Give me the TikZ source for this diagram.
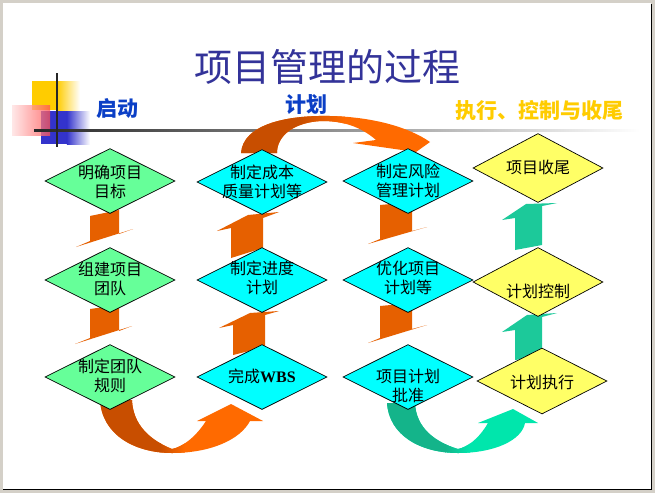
\documentclass[tikz,border=0pt]{standalone}
\usepackage{fontspec}
\newfontfamily\cjk{Noto Sans CJK SC}
\newfontfamily\lat{Liberation Serif}
\usetikzlibrary{shapes.geometric}
\definecolor{frameC}{HTML}{D4D0C8}
\definecolor{titleC}{HTML}{333399}
\definecolor{headB}{HTML}{0B3FC6}
\definecolor{headY}{HTML}{FFCC00}
\definecolor{dGreen}{HTML}{66FF99}
\definecolor{dCyan}{HTML}{00FFFF}
\definecolor{dYellow}{HTML}{FFFF66}
\definecolor{orD}{HTML}{C84E00}
\definecolor{orL}{HTML}{FF6A00}
\definecolor{orS}{HTML}{E66000}
\definecolor{grD}{HTML}{14B48A}
\definecolor{grL}{HTML}{00E6AC}
\definecolor{grS}{HTML}{1CC99A}
\definecolor{logoY}{HTML}{FFCC00}
\definecolor{logoB}{HTML}{3333CC}
\definecolor{logoR}{HTML}{FF3333}
\begin{document}
\begin{tikzpicture}[x=1pt,y=-1pt,
  dia/.style={draw=black, line width=0.7pt, shape=diamond, inner sep=0pt, minimum width=130pt, minimum height=65pt},
  dtxt/.style={font=\cjk\fontsize{16}{19}\selectfont, align=center, inner sep=0pt, text=black},
  head/.style={font=\cjk\bfseries\fontsize{21}{24}\selectfont, inner sep=0pt}]
\useasboundingbox (0,0) rectangle (655,493);
% frame
\fill[frameC] (0,0) rectangle (655,493);
\fill[white] (3,3) rectangle (651,489);
\draw[black, line width=1.2pt] (651.6,4) -- (651.6,489.6) -- (3,489.6);
% title
\node[font=\cjk\fontsize{38}{40}\selectfont, text=titleC, inner sep=0pt] (title) at (327,67) {项目管理的过程};
% logo
\fill[logoY] (32,81) rectangle (57,110);
\shade[left color=logoY, right color=white] (56.8,81) rectangle (80,110);
\fill[logoB] (41,111) rectangle (67,144);
\shade[left color=logoB, right color=white] (66.8,111) rectangle (90,144);
\shade[left color=logoR!15, right color=logoR!85, opacity=0.75] (12,105) rectangle (50,135);
\shade[left color=black!85, middle color=black!45, right color=white] (34,129) rectangle (640,131);
\draw[black!85, line width=2pt] (57,73) -- (57,147);
% headers
\node[head, text=headB] (h1) at (117,109) {启动};
\node[head, text=headB] (h2) at (306,105) {计划};
\node[head, text=headY] (h3) at (539,111) {执行、控制与收尾};
% big curved arrows
\def\toparrow{(241,153) .. controls (243,125) and (285,115) .. (330,116) .. controls (375,117) and (410,128) .. (430,142) -- (416,152) -- (353,143) -- (376,140) .. controls (360,126) and (342,121) .. (322,121) .. controls (295,122) and (277,135) .. (277,153) -- cycle}
\begin{scope}
\clip \toparrow;
\fill[orL] (230,100) rectangle (440,160);
\shade[left color=orD, right color=orL] (300,100) rectangle (345,160);
\fill[orD] (230,100) rectangle (300.5,160);
\end{scope}
\def\blarrow{(100,400) .. controls (102,435) and (135,453) .. (172,453) .. controls (210,453) and (240,440) .. (250,421) -- (263,421) -- (231,404) -- (197,421) -- (206,421) .. controls (195,438) and (182,447) .. (172,449) .. controls (150,440) and (133,425) .. (132,400) -- cycle}
\begin{scope}
\clip \blarrow;
\fill[orL] (90,395) rectangle (270,460);
\shade[left color=orD, right color=orL] (160,395) rectangle (185,460);
\fill[orD] (90,395) rectangle (160.5,460);
\end{scope}
\def\grarrow{(387,403) .. controls (389,435) and (420,453) .. (458,453) .. controls (495,453) and (522,440) .. (525,423) -- (538,423) -- (513,409) -- (478,423) -- (488,423) .. controls (478,440) and (467,447) .. (458,449) .. controls (435,442) and (416,428) .. (415,403) -- cycle}
\begin{scope}
\clip \grarrow;
\fill[grL] (380,395) rectangle (545,460);
\shade[left color=grD, right color=grL] (445,395) rectangle (470,460);
\fill[grD] (380,395) rectangle (445.5,460);
\end{scope}
% small block arrows: column 1 (down)
\fill[orS] (90,216) -- (119,210) -- (119,234) -- (133,229) -- (76,247) -- (90,241) -- cycle;
\fill[orS] (90,309) -- (119,305) -- (119,331) -- (132,326) -- (75,344) -- (90,338) -- cycle;
% column 3 (down)
\fill[orS] (380,205) -- (412,202) -- (412,231) -- (427,227) -- (368,244) -- (380,239) -- cycle;
\fill[orS] (380,306) -- (412,303) -- (412,329) -- (427,325) -- (368,343) -- (380,338) -- cycle;
% column 2 (up)
\fill[orS] (217,231) -- (231,228) -- (231,258) -- (263,248) -- (263,218) -- (279,212) -- (248,215) -- cycle;
\fill[orS] (219,328) -- (233,325) -- (233,355) -- (265,347) -- (265,315) -- (279,311) -- (250,313) -- cycle;
% column 4 (up)
\fill[grS] (502,220) -- (515,218) -- (515,250) -- (542,245) -- (542,206) -- (557,203) -- (526,204) -- cycle;
\fill[grS] (502,332) -- (515,330) -- (515,360) -- (542,356) -- (542,317) -- (557,313) -- (527,315) -- cycle;
% diamonds
\node[dia, fill=dGreen] (d11) at (110,181) {};
\node[dia, fill=dGreen] (d12) at (110,280) {};
\node[dia, fill=dGreen] (d13) at (110,377) {};
\node[dia, fill=dCyan] (d21) at (262,182) {};
\node[dia, fill=dCyan] (d22) at (262,280) {};
\node[dia, fill=dCyan] (d23) at (262,377) {};
\node[dia, fill=dCyan] (d31) at (408,181) {};
\node[dia, fill=dCyan] (d32) at (408,280) {};
\node[dia, fill=dCyan] (d33) at (408,377) {};
\node[dia, fill=dYellow, minimum height=69pt] (d41) at (538,168) {};
\node[dia, fill=dYellow, minimum height=69pt] (d42) at (538,282) {};
\node[dia, fill=dYellow, minimum height=66pt] (d43) at (542,381) {};
% diamond texts
\node[dtxt] (t11) at (110,181.5) {明确项目\\目标};
\node[dtxt] (t12) at (110,279) {组建项目\\团队};
\node[dtxt] (t13) at (110,376) {制定团队\\规则};
\node[dtxt] (t21) at (262,181.5) {制定成本\\质量计划等};
\node[dtxt] (t22) at (262,278) {制定进度\\计划};
\node[dtxt] (t23) at (262,376) {完成{\lat\bfseries WBS}};
\node[dtxt] (t31) at (408,181) {制定风险\\管理计划};
\node[dtxt] (t32) at (408,278) {优化项目\\计划等};
\node[dtxt] (t33) at (408,386) {项目计划\\批准};
\node[dtxt] (t41) at (538,167) {项目收尾};
\node[dtxt] (t42) at (538,291) {计划控制};
\node[dtxt] (t43) at (542,382) {计划执行};
\end{tikzpicture}
\end{document}
